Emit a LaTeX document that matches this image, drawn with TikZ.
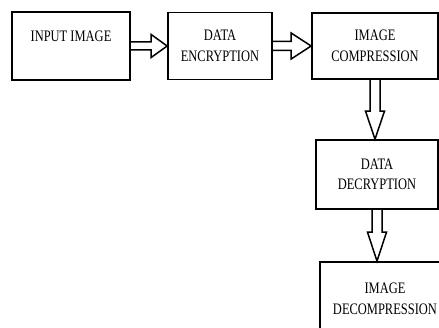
\documentclass[tikz,border=0pt]{standalone}
\usepackage{fontspec}
\newfontfamily\boxfont[FakeStretch=0.78]{Liberation Serif}
\usepackage{tikz}
\usetikzlibrary{
  positioning,
  calc,
  arrows.meta
}
\tikzset{
  stage/.style={draw, line width=1.7pt, inner sep=0pt, align=center,
    font=\boxfont\fontsize{16}{20.5}\selectfont},
  blockline/.style={draw, line width=1.5pt, line join=miter}
}
% hollow block arrow: from, to, shaft half-width, head half-width, head length
\newcommand{\blockarrow}[5]{%
  \coordinate (hb) at ($(#2)!#5!(#1)$);
  \draw[blockline] ($(#1)!#3!90:(#2)$) -- ($(hb)!#3!90:(#2)$) -- ($(hb)!#4!90:(#2)$)
    -- (#2) -- ($(hb)!#4!-90:(#2)$) -- ($(hb)!#3!-90:(#2)$) -- ($(#1)!#3!-90:(#2)$);
}

\begin{document}
\begin{tikzpicture}[x=1pt,y=1pt]
            \useasboundingbox (0,0) rectangle (439,327);
            \node[stage, minimum width=118pt, minimum height=68pt, text height=10pt, text depth=18pt] (input) at (71,281) {INPUT IMAGE};
            \node[stage, minimum width=104pt, minimum height=67pt] (encrypt) at (220,281) {DATA\\ENCRYPTION};
            \node[stage, minimum width=126pt, minimum height=66pt] (compress) at (375,281) {IMAGE\\COMPRESSION};
            \node[stage, minimum width=122pt, minimum height=69pt] (decrypt) at (377,152.5) {DATA\\DECRYPTION};
            \node[stage, minimum width=130pt, minimum height=74pt] (decompress) at (385,28) {IMAGE\\DECOMPRESSION};
            \blockarrow{input.east}{encrypt.west}{4pt}{11.5pt}{16pt}
            \blockarrow{encrypt.east}{compress.west}{4.5pt}{13pt}{20pt}
            \blockarrow{compress.south}{compress.south |- decrypt.north}{5pt}{9.5pt}{28pt}
            \blockarrow{decrypt.south}{decrypt.south |- decompress.north}{5pt}{9.5pt}{29pt}
        \end{tikzpicture}
\end{document}
